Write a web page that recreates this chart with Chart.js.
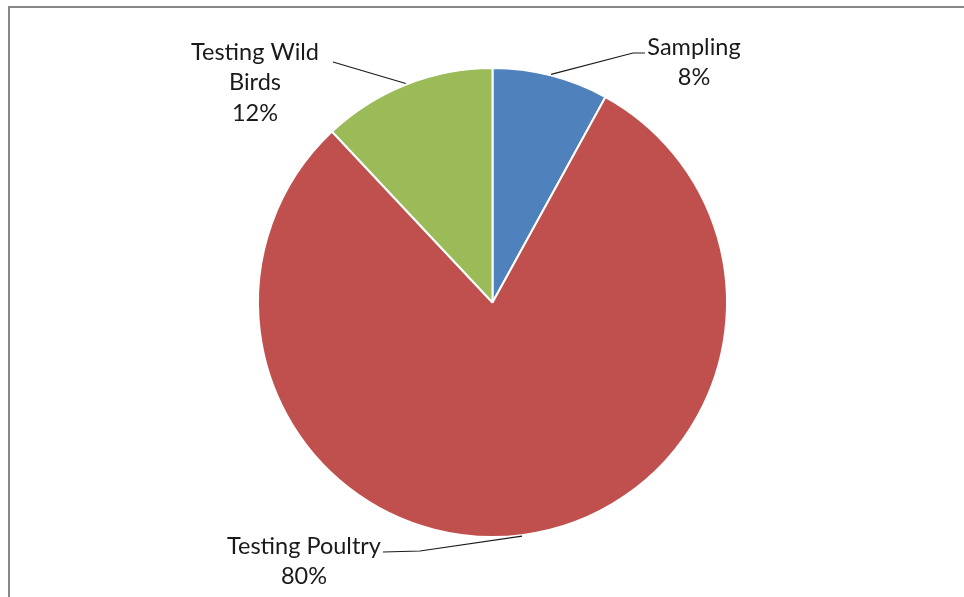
<!DOCTYPE html>
<html>
<head>
<meta charset="utf-8">
<script src="https://cdn.jsdelivr.net/npm/chart.js@4/dist/chart.umd.min.js"></script>
<style>
  html, body { margin: 0; padding: 0; background: #fff; overflow: hidden; }
  #wrap { position: relative; width: 964px; height: 597px; }
  #frame { position: absolute; left: 8px; top: 6px; width: 1000px; height: 700px; border: 2px solid #878787; box-sizing: border-box; }
  canvas { position: absolute; left: 0; top: 0; }
</style>
</head>
<body>
<div id="wrap">
  <div id="frame"></div>
  <canvas id="c" width="964" height="597"></canvas>
</div>
<script>
const categories = ["Sampling", "Testing Poultry", "Testing Wild Birds"];
const percentValues = [8, 80, 12];
const labelLines = [["Sampling", "8%"], ["Testing Poultry", "80%"], ["Testing Wild", "Birds", "12%"]];
const sliceColors = ["#4F81BD", "#C0504D", "#9BBB59"];

// label layout: text center x, first line middle y, leader path points (from arc anchor towards label)
const labelLayout = [
  { x: 694, y: 47, path: [[633, 53], [645, 53]] },
  { x: 304, y: 546, path: [[420, 551], [383, 552]] },
  { x: 255, y: 52, path: [[333, 62]] }
];

const leaderPlugin = {
  id: 'leaders',
  afterDraw(chart) {
    const ctx = chart.ctx;
    const meta = chart.getDatasetMeta(0);
    ctx.save();
    meta.data.forEach((arc, i) => {
      const p = arc.getProps(['x', 'y', 'startAngle', 'endAngle', 'outerRadius'], true);
      const mid = (p.startAngle + p.endAngle) / 2;
      const ax = p.x + Math.cos(mid) * (p.outerRadius + 1);
      const ay = p.y + Math.sin(mid) * (p.outerRadius + 1);
      const L = labelLayout[i];
      ctx.strokeStyle = '#1a1a1a';
      ctx.lineWidth = 1.2;
      ctx.beginPath();
      ctx.moveTo(ax, ay);
      L.path.forEach(pt => ctx.lineTo(pt[0], pt[1]));
      ctx.stroke();
      ctx.fillStyle = '#1a1a1a';
      ctx.font = '23.5px Lato';
      ctx.textAlign = 'center';
      ctx.textBaseline = 'middle';
      labelLines[i].forEach((t, k) => ctx.fillText(t, L.x, L.y + k * 30.5));
    });
    ctx.restore();
  }
};

new Chart(document.getElementById('c'), {
  type: 'pie',
  data: {
    labels: categories,
    datasets: [{
      data: percentValues,
      backgroundColor: sliceColors,
      borderColor: '#ffffff',
      borderWidth: 2
    }]
  },
  options: {
    responsive: false,
    animation: false,
    layout: { padding: { left: 30, right: 9, top: 67, bottom: 59 } },
    plugins: { legend: { display: false }, tooltip: { enabled: false } }
  },
  plugins: [leaderPlugin]
});
</script>
</body>
</html>
